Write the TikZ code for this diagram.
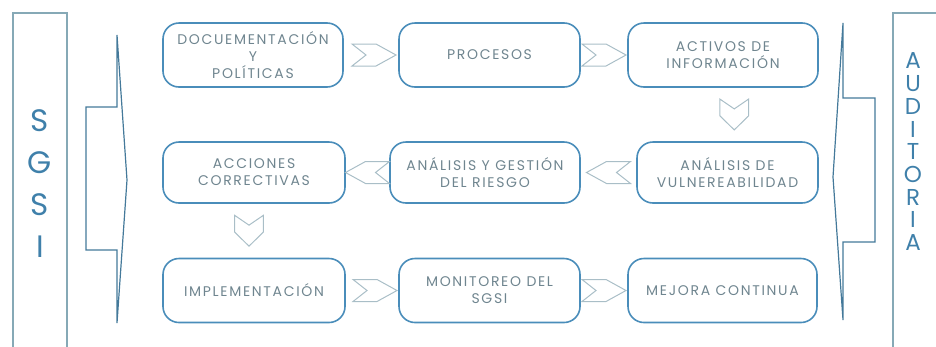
\documentclass[tikz,border=0pt]{standalone}
\usepackage{fontspec}
\setmainfont{Poppins}
\newfontfamily\etapafont{Poppins}[LetterSpace=12]
\usetikzlibrary{calc}

\definecolor{boxblue}{HTML}{4A8DBA}
\definecolor{txtgray}{HTML}{6F858F}
\definecolor{sidecol}{HTML}{3F80AA}
\definecolor{framecol}{HTML}{86A9B6}
\definecolor{bracecol}{HTML}{44799A}
\definecolor{chevcol}{HTML}{A9BEC7}

\tikzset{
  etapa/.style={draw=boxblue, line width=1.6pt, rounded corners=16pt,
    minimum height=64pt, text=txtgray, align=center, inner sep=0pt,
    font=\etapafont\fontsize{14}{17}\selectfont},
  chevron/.pic={\draw[chevcol, line width=1pt] (-22,-11) -- (2,-11) -- (22,0)
    -- (2,11) -- (-22,11) -- (-8,0) -- cycle;},
  letra/.style={text=sidecol, inner sep=0pt}
}

\begin{document}
\begin{tikzpicture}[x=1pt,y=-1pt]
\useasboundingbox (0,0) rectangle (936,346);

% marcos laterales
\draw[framecol, line width=1.3pt] (13,350) -- (13,13) -- (67,13) -- (67,350);
\draw[framecol, line width=1.3pt] (893,350) -- (893,13) -- (940,13);
\draw[bracecol, line width=1.2pt] (117,35) -- (117,107) -- (86,107) -- (86,250)
  -- (117,250) -- (117,323) -- (127,180) -- cycle;
\draw[bracecol, line width=1.2pt] (843,23) -- (843,98) -- (875,98) -- (875,242)
  -- (843,242) -- (843,320) -- (833,177) -- cycle;

\foreach \l [count=\i] in {S,G,S,I}
  \node[letra, font=\fontsize{31}{31}\selectfont] (sgsi-\i) at (40,{79+42*\i}) {\l};
\foreach \l [count=\i] in {A,U,D,I,T,O,R,I,A}
  \node[letra, font=\fontsize{23}{23}\selectfont] (aud-\i) at (913,{38.3+22.7*\i}) {\l};

% etapas
\node[etapa, minimum width=180pt] (docs) at (253,55) {DOCUEMENTACIÓN\\Y\\POLÍTICAS};
\node[etapa, minimum width=181pt] (proc) at (489.5,55) {PROCESOS};
\node[etapa, minimum width=190pt] (activos) at (723,55) {ACTIVOS DE\\INFORMACIÓN};
\node[etapa, minimum width=182pt, minimum height=61pt] (acciones) at (254,172.5) {ACCIONES\\CORRECTIVAS};
\node[etapa, minimum width=190pt, minimum height=61pt] (riesgo) at (485,172.5) {ANÁLISIS Y GESTIÓN\\DEL RIESGO};
\node[etapa, minimum width=181pt, minimum height=61pt] (vulner) at (727.5,172.5) {ANÁLISIS DE\\VULNEREABILIDAD};
\node[etapa, minimum width=182pt] (implem) at (254,290.5) {IMPLEMENTACIÓN};
\node[etapa, minimum width=181pt] (monitor) at (489.5,290.5) {MONITOREO DEL\\SGSI};
\node[etapa, minimum width=189pt] (mejora) at (722.5,290.5) {MEJORA CONTINUA};

% flechas
\pic at ($(docs.east)!0.5!(proc.west)+(3,0)$) {chevron};
\pic at ($(proc.east)!0.5!(activos.west)$) {chevron};
\pic[rotate=-90, xscale=0.7, yscale=1.3] at ($(activos.south)!0.5!(vulner.north)+(9,0)$) {chevron};
\pic[rotate=180] at ($(vulner.west)!0.5!(riesgo.east)$) {chevron};
\pic[rotate=180] at ($(riesgo.west)!0.5!(acciones.east)$) {chevron};
\pic[rotate=-90, xscale=0.7, yscale=1.3] at ($(acciones.south)!0.5!(implem.north)+(-5,0)$) {chevron};
\pic at ($(implem.east)!0.5!(monitor.west)+(3,0)$) {chevron};
\pic at ($(monitor.east)!0.5!(mejora.west)$) {chevron};
\end{tikzpicture}
\end{document}
